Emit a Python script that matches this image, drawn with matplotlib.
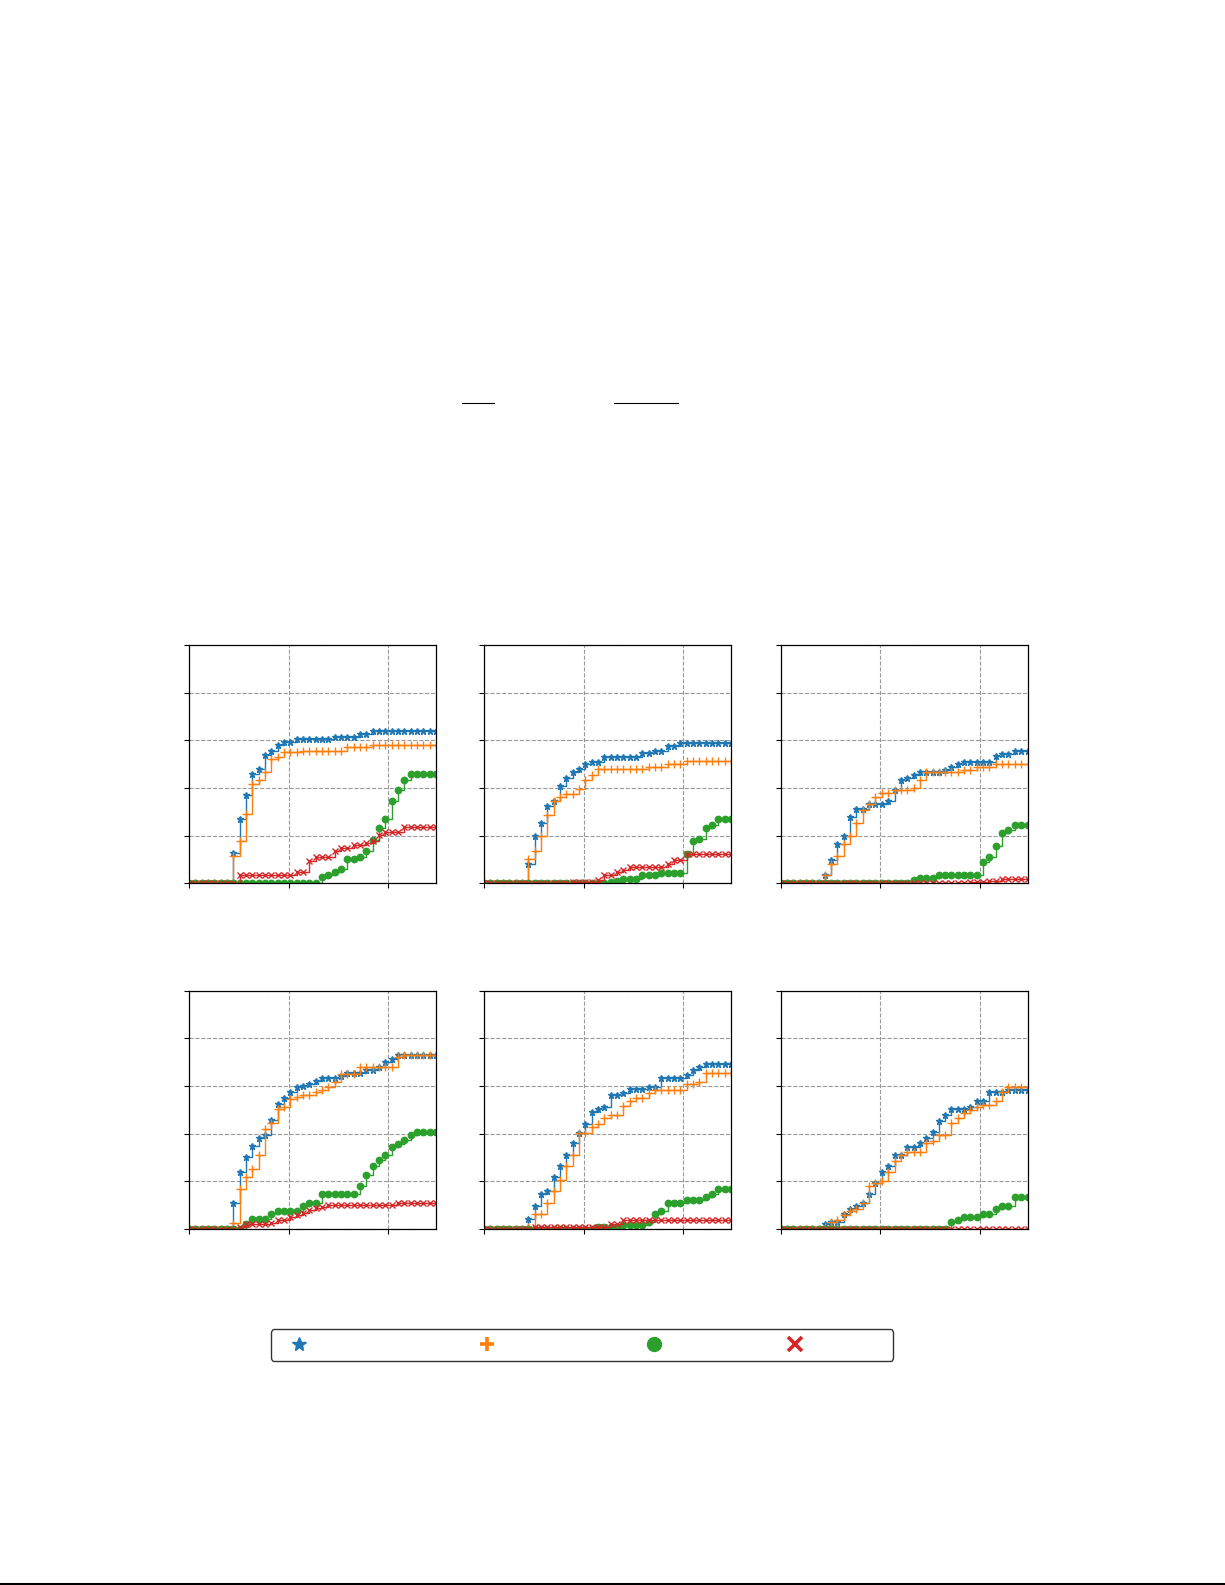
import matplotlib
matplotlib.use("Agg")
import matplotlib.pyplot as plt
from matplotlib.lines import Line2D
from matplotlib.ticker import FixedLocator, NullLocator

# ---------------- data ----------------
times = [1.000, 1.157, 1.340, 1.551, 1.795, 2.078, 2.405, 2.784, 3.222, 3.729,
         4.317, 4.996, 5.783, 6.694, 7.748, 8.968, 10.38, 12.02, 13.91, 16.10,
         18.63, 21.57, 24.96, 28.89, 33.45, 38.71, 44.81, 51.86, 60.03, 69.49,
         80.43, 93.09, 107.8, 124.7, 144.4, 167.1, 193.4, 223.9, 259.1, 300.0]

# panel 1 (top left)
p1_blue = [0, 0, 0, 0, 0, 0, 0, .126, .271, .369, .460, .481, .538, .557, .580, .591, .591,
           .606, .606, .606, .606, .606, .606, .615, .615, .615, .615, .625, .625,
           .639, .639, .639, .639, .639, .639, .639, .639, .639, .639, .639]
p1_orange = [0, 0, 0, 0, 0, 0, 0, .115, .178, .290, .417, .435, .467, .522, .530, .550, .550, .550,
             .557, .557, .557, .557, .557, .557, .557, .571, .571, .571, .571,
             .582, .582, .582, .582, .582, .582, .582, .582, .582, .582, .582]
p1_green = [0, 0, 0, 0, 0, 0, 0, 0, 0, 0, 0, 0, 0, 0, 0, 0, 0, 0, 0, 0, 0,
            .025, .035, .046, .058, .102, .102, .111, .136, .180, .234, .269, .347, .390, .435,
            .459, .459, .459, .459, .459]
p1_red = [0, 0, 0, 0, 0, 0, 0, 0, .035, .035, .035, .035, .035, .035, .035, .035, .035,
          .049, .049, .095, .112, .112, .112, .136, .147, .147, .159, .159, .168, .178, .204,
          .216, .216, .216, .236, .236, .236, .236, .236, .236]

# panel 2 (top middle)
p2_blue = [0, 0, 0, 0, 0, 0, 0, .080, .200, .255, .323, .344, .408, .443, .467, .478, .500,
           .510, .510, .531, .531, .531, .531, .531, .531, .545, .545, .555, .555, .578, .578,
           .589, .589, .589, .589, .589, .589, .589, .589, .589]
p2_orange = [0, 0, 0, 0, 0, 0, 0, .102, .134, .200, .288, .344, .364, .376, .376, .394, .432, .456,
             .478, .478, .478, .478, .478, .478, .478, .478, .488, .488, .490, .502, .502, .502,
             .512, .512, .512, .512, .512, .512, .512, .512]
p2_green = [0, 0, 0, 0, 0, 0, 0, 0, 0, 0, 0, 0, 0, 0, 0, 0, 0, 0, 0, 0,
            .004, .010, .020, .020, .020, .035, .035, .035, .045, .045, .045, .045,
            .122, .176, .187, .234, .246, .269, .269, .269]
p2_red = [0, 0, 0, 0, 0, 0, 0, 0, 0, 0, 0, 0, 0, 0, .006, .006, .006, .006, .012,
          .034, .034, .046, .056, .069, .069, .069, .069, .069, .069, .083, .099, .099,
          .122, .122, .122, .122, .122, .122, .122, .122]

# panel 3 (top right)
p3_blue = [0, 0, 0, 0, 0, 0, 0, .036, .099, .166, .200, .277, .312, .312, .331, .331, .331,
           .345, .390, .432, .443, .453, .467, .467, .467, .467, .477, .488, .499,
           .510, .510, .510, .510, .510, .533, .544, .544, .555, .555, .555]
p3_orange = [0, 0, 0, 0, 0, 0, 0, .036, .080, .113, .166, .200, .255, .306, .331, .364, .379, .379,
             .390, .390, .390, .401, .432, .467, .467, .467, .467, .467, .467, .477, .477,
             .488, .488, .488, .499, .499, .499, .499, .499, .499]
p3_green = [0, 0, 0, 0, 0, 0, 0, 0, 0, 0, 0, 0, 0, 0, 0, 0, 0, 0, 0, 0, 0,
            .013, .024, .024, .024, .035, .035, .035, .035, .035, .035, .035,
            .090, .112, .157, .213, .222, .246, .246, .246]
p3_red = [0, 0, 0, 0, 0, 0, 0, 0, 0, 0, 0, 0, 0, 0, 0, 0, 0, 0, 0, 0, 0, 0, 0, 0, 0, 0, 0, 0, 0, 0,
          .006, .006, .006, .011, .011, .017, .017, .017, .017, .017]

# panel 4 (bottom left)
p4_blue = [0, 0, 0, 0, 0, 0, 0, .110, .240, .302, .348, .383, .394, .457, .524, .551, .575, .597,
           .600, .608, .620, .632, .632, .632, .642, .656, .656, .656, .667, .667, .678, .702, .715,
           .729, .729, .729, .729, .729, .729, .729]
p4_orange = [0, 0, 0, 0, 0, 0, 0, .027, .166, .220, .252, .310, .418, .443, .502, .513, .544, .552,
             .561, .561, .575, .583, .597, .618, .649, .649, .649,
             .680, .680, .680, .680, .680, .680, .723, .729, .729, .729, .729, .729, .729]
p4_green = [0, 0, 0, 0, 0, 0, 0, 0, 0, .020, .040, .040, .040, .063, .074, .074, .074, .074,
            .098, .109, .109, .145, .145, .145, .145, .145, .145, .182, .228, .266, .288, .312,
            .345, .358, .372, .394, .407, .407, .407, .407]
p4_red = [0, 0, 0, 0, 0, 0, 0, 0, .010, .020, .020, .020, .020, .027, .038, .038, .049, .059,
          .069, .080, .087, .094, .099, .099, .099, .099, .099, .099, .099, .099, .099, .099, .099,
          .110, .110, .110, .110, .110, .110, .110]

# panel 5 (bottom middle)
p5_blue = [0, 0, 0, 0, 0, 0, 0, .041, .098, .147, .158, .220, .264, .312, .359, .404, .442, .491,
           .502, .513, .561, .561, .572, .586, .586, .586, .597, .597, .632, .632, .632, .632,
           .645, .667, .678, .692, .692, .692, .692, .692]
p5_orange = [0, 0, 0, 0, 0, 0, 0, .010, .063, .063, .109, .158, .206, .264, .310, .404, .404, .429,
             .442, .464, .478, .478, .516, .537, .548, .548, .572, .583, .583, .583, .583, .583,
             .608, .608, .618, .656, .656, .656, .656, .656]
p5_green = [0, 0, 0, 0, 0, 0, 0, 0, 0, 0, 0, 0, 0, 0, 0, 0, 0, 0,
            .008, .008, .008, .008, .015, .015, .015, .015, .030, .063, .076, .110, .110, .110,
            .122, .122, .122, .133, .147, .169, .169, .169]
p5_red = [0, 0, 0, 0, 0, 0, 0, 0, .010, .010, .010, .010, .010, .010, .010, .010, .010, .010,
          .010, .010, .020, .020, .036, .036, .036, .036, .036, .036, .036, .036, .036, .036,
          .036, .036, .036, .036, .036, .036, .036, .036]

# panel 6 (bottom right)
p6_blue = [0, 0, 0, 0, 0, 0, 0, .021, .028, .028, .063, .085, .098, .110, .145, .194, .239, .266,
           .310, .310, .345, .345, .359, .382, .406, .455, .478, .502, .502, .502, .513, .537, .537,
           .575, .575, .575, .583, .583, .583, .583]
p6_orange = [0, 0, 0, 0, 0, 0, 0, .010, .028, .038, .059, .074, .085, .110, .180, .194, .203, .238,
             .287, .310, .322, .322, .322, .359, .371, .394, .394, .443, .464, .488, .499, .513,
             .522, .522, .537, .575, .597, .597, .597, .597]
p6_green = [0, 0, 0, 0, 0, 0, 0, 0, 0, 0, 0, 0, 0, 0, 0, 0, 0, 0, 0, 0, 0, 0, 0, 0, 0, 0, 0,
            .028, .038, .049, .049, .052, .062, .062, .084, .098, .098, .133, .133, .133]
p6_red = [0, 0, 0, 0, 0, 0, 0, 0, 0, 0, 0, 0, 0, 0, 0, 0, 0, 0, 0, 0,
          0, 0, 0, 0, 0, 0, 0, 0, 0, 0, 0, 0, 0, 0, 0, 0, 0, 0, 0, 0]

panels = [
    [p1_blue, p1_orange, p1_green, p1_red],
    [p2_blue, p2_orange, p2_green, p2_red],
    [p3_blue, p3_orange, p3_green, p3_red],
    [p4_blue, p4_orange, p4_green, p4_red],
    [p5_blue, p5_orange, p5_green, p5_red],
    [p6_blue, p6_orange, p6_green, p6_red],
]

x_ticks = [1, 10, 100]
y_ticks = [0.0, 0.2, 0.4, 0.6, 0.8, 1.0]

# legend labels are blank in the reference (no glyphs rendered)
legend_labels = ["                   ", "               ", "          ", "           "]

# ---------------- style ----------------
colors = ["#1f77b4", "#ff7f0e", "#2ca02c", "#d62728"]
markers = ["*", "+", "o", "x"]
msizes = [5.0, 5.5, 4.6, 4.5]
legend_mew = [1.0, 2.6, 1.0, 2.6]

W, H = 1225, 1585
fig = plt.figure(figsize=(W / 100, H / 100), dpi=100)

col_left = [189, 484, 780.5]
row_top = [645, 990.7]
ax_w, ax_h = 247, 238.3

for k, series in enumerate(panels):
    r, c = divmod(k, 3)
    left = col_left[c] / W
    bottom = 1 - (row_top[r] + ax_h) / H
    ax = fig.add_axes([left, bottom, ax_w / W, ax_h / H])
    for s, ys in enumerate(series):
        ax.plot(times, ys, drawstyle="steps-post", color=colors[s], marker=markers[s],
                markersize=msizes[s], linewidth=1.0, markeredgewidth=1.0, clip_on=True)
    ax.set_xscale("log")
    ax.set_xlim(1, 300)
    ax.set_ylim(0, 1)
    ax.xaxis.set_major_locator(FixedLocator(x_ticks))
    ax.xaxis.set_minor_locator(NullLocator())
    ax.yaxis.set_major_locator(FixedLocator(y_ticks))
    ax.yaxis.set_minor_locator(NullLocator())
    ax.tick_params(labelbottom=False, labelleft=False, direction="out", length=3.5, width=0.8)
    ax.grid(True, which="major", linestyle="--", color="0.6", linewidth=0.8)
    ax.set_axisbelow(True)
    for sp in ax.spines.values():
        sp.set_linewidth(0.9)
        sp.set_color("black")

handles = [Line2D([], [], color=colors[i], marker=markers[i], linestyle="None",
                  markersize=10, markeredgewidth=legend_mew[i]) for i in range(4)]
leg = fig.legend(handles, legend_labels, ncol=4, loc="upper left",
                 bbox_to_anchor=(271 / W, 1 - 1329.3 / H), borderaxespad=0,
                 fontsize=12, borderpad=0.4, handlelength=2.5, handletextpad=0.8,
                 columnspacing=2.0, frameon=True, fancybox=True, framealpha=1)
leg.get_frame().set_edgecolor("0.2")
leg.get_frame().set_linewidth(1.0)

# decorative rules present on the page
fig.add_artist(Line2D([462 / W, 494 / W], [1 - 403.3 / H, 1 - 403.3 / H],
                      transform=fig.transFigure, color="black", linewidth=0.8))
fig.add_artist(Line2D([614 / W, 678 / W], [1 - 403.3 / H, 1 - 403.3 / H],
                      transform=fig.transFigure, color="black", linewidth=0.8))
fig.add_artist(Line2D([0, 1], [1 - 1583.5 / H, 1 - 1583.5 / H],
                      transform=fig.transFigure, color="black", linewidth=1.5))

fig.savefig("out.png", dpi=100)
